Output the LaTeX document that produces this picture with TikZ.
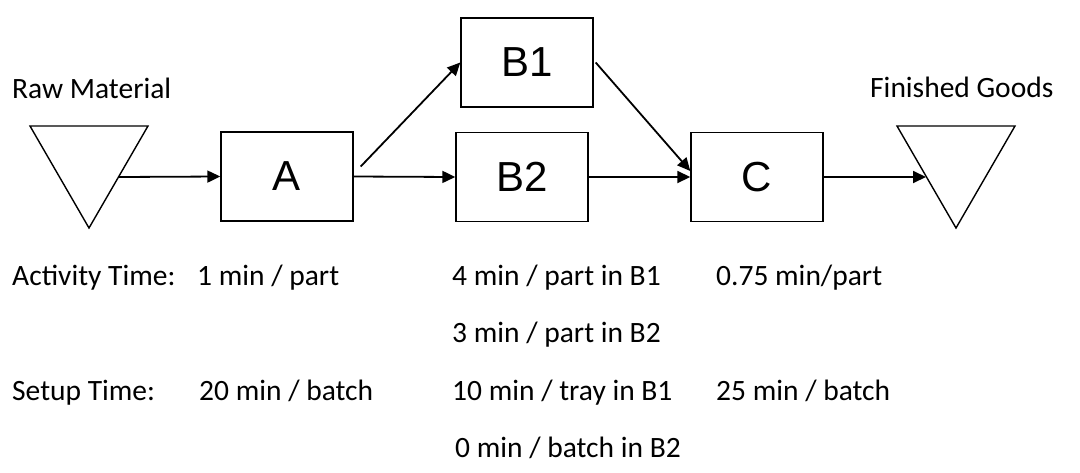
\documentclass[tikz,border=0pt]{standalone}
\usepackage{fontspec}
\setmainfont{Carlito}
\newfontfamily\arialf{Liberation Sans}
\usetikzlibrary{arrows.meta,calc}
\tikzset{
  box/.style={draw, line width=1.4pt, minimum width=132pt, minimum height=89pt, inner sep=0pt, font=\arialf\fontsize{42}{48}\selectfont},
  tri/.style={draw, line width=1.4pt, line join=miter},
  flow/.style={line width=1.8pt, -{Triangle[length=13pt,width=12pt]}},
  lbl/.style={anchor=base west, inner sep=0pt, font=\fontsize{29.5}{34}\selectfont}
}
\begin{document}
\begin{tikzpicture}[x=1pt,y=-1pt]
\useasboundingbox (0,0) rectangle (1080,472);
% boxes
\node[box] (A)  at (287,176.5) {A};
\node[box] (B1) at (527,62.5) {B1};
\node[box] (B2) at (522,177) {B2};
\node[box] (C)  at (757,177) {C};
% triangles
\draw[tri] (30,126) -- (148,126) -- (89,228) -- cycle;
\draw[tri] (897,126) -- (1015,126) -- (956,228) -- cycle;
\coordinate (rmout) at (118.5,177);
\coordinate (fgin) at (926,177);
% labels
\node[lbl] (rm) at (12,98) {Raw Material};
\node[lbl] (fg) at (870,97) {Finished Goods};
\node[lbl] (at) at (12,285) {Activity Time:};
\node[lbl] (at1) at (197,285) {1 min / part};
\node[lbl] (at2) at (452,285) {4 min / part in B1};
\node[lbl] (at3) at (716,285) {0.75 min/part};
\node[lbl] (at4) at (452,342) {3 min / part in B2};
\node[lbl] (st) at (12,400) {Setup Time:};
\node[lbl] (st1) at (199,400) {20 min / batch};
\node[lbl] (st2) at (452,400) {10 min / tray in B1};
\node[lbl] (st3) at (716,400) {25 min / batch};
\node[lbl] (st4) at (455,457) {0 min / batch in B2};
% connectors
\draw[flow] (rmout) -- (A.west);
\draw[flow] ($(A.east)+(7,-10)$) -- (B1.west);
\draw[flow] (A.east) -- (B2.west);
\draw[flow] ($(B1.east)+(2,0)$) -- ($(C.west)+(0,-6)$);
\draw[flow] (B2.east) -- (C.west);
\draw[flow] (C.east) -- (fgin);
\end{tikzpicture}
\end{document}
